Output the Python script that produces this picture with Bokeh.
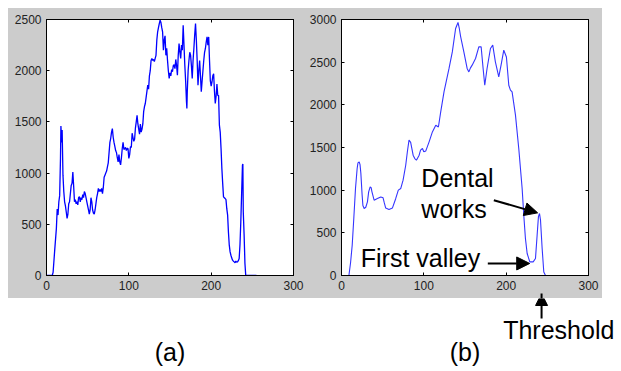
from bokeh.plotting import figure
from bokeh.layouts import row, column
from bokeh.models import Range1d, LinearAxis, FixedTicker, Arrow, NormalHead, Label, Spacer
from bokeh.embed import file_html
from bokeh.resources import INLINE

# ---------------- data ----------------
a_x = [0, 7, 8, 10, 12, 13, 14, 15, 16, 17, 17.5, 18.5, 19, 20, 21, 22, 23, 24, 25, 26, 27, 28, 29, 30,
       31, 32, 33, 34, 35, 36, 37, 38, 39, 40, 41, 42, 43, 44, 45, 46, 47, 48, 49, 50, 51, 52, 53, 54,
       55, 56, 57, 58, 59, 60, 61, 62, 63, 64, 65, 66, 67, 68, 69, 70, 71, 72, 73, 74, 75, 76, 77, 78,
       79, 80, 81, 82, 83, 84, 85, 86, 87, 88, 89, 90, 91, 92, 93, 94, 95, 96, 97, 98, 99, 100, 101,
       102, 103, 104, 105, 106, 107, 108, 109, 110, 111, 112, 113, 114, 115, 116, 117, 118, 119, 120,
       121, 122, 123, 124, 125, 126, 127, 128, 129, 130, 131, 132, 133, 134, 135, 136, 137, 138, 139,
       140, 141, 142, 143, 144, 145, 146, 147, 148, 149, 150, 151, 152, 153, 154, 155, 156, 157, 158,
       159, 160, 161, 162, 163, 164, 165, 166, 167, 168, 169, 170, 170.5, 171, 172, 173, 174, 175, 176,
       177, 178, 179, 180, 181, 182, 183, 184, 185, 186, 187, 188, 189, 190, 191, 192, 193, 194, 195,
       196, 197, 198, 199, 200, 201, 202, 203, 204, 205, 206, 207, 208, 209, 210, 211, 212, 213, 214,
       215, 216, 217, 218, 219, 220, 221, 222, 223, 224, 225, 226, 227, 228, 229, 230, 231, 232, 233,
       234, 235, 236, 237, 238, 238.5, 239, 240, 240.5, 241, 242, 255]
a_y = [0, 0, 30, 250, 460, 650, 590, 720, 780, 1150, 1460, 1300, 1420, 980, 820, 720, 680, 620, 557, 600,
       700, 720, 800, 880, 900, 1010, 870, 720, 740, 700, 720, 690, 760, 770, 720, 760, 740, 790, 760,
       820, 800, 760, 720, 680, 640, 600, 640, 760, 720, 640, 610, 600, 640, 700, 760, 800, 850, 820,
       840, 820, 850, 800, 860, 960, 980, 1000, 1020, 1060, 1100, 1200, 1300, 1340, 1400, 1435, 1350,
       1300, 1260, 1220, 1200, 1150, 1110, 1180, 1110, 1080, 1150, 1240, 1300, 1230, 1240, 1250, 1220,
       1240, 1240, 1143, 1180, 1260, 1250, 1390, 1350, 1310, 1330, 1440, 1500, 1565, 1480, 1430, 1380,
       1480, 1400, 1430, 1480, 1600, 1650, 1680, 1740, 1800, 1860, 1820, 1950, 2000, 2100, 2120, 2100,
       2110, 2090, 2120, 2150, 2300, 2380, 2420, 2460, 2493, 2470, 2420, 2380, 2200, 2300, 2340, 2150,
       2220, 2100, 2000, 1924, 1980, 1950, 2010, 1990, 2050, 2060, 2020, 2110, 2050, 1956, 2150, 2266,
       2180, 2120, 2250, 2200, 2444, 2250, 2054, 1900, 1700, 1631, 1800, 2000, 2100, 2180, 2152, 2050,
       1924, 2100, 2217, 2350, 2461, 2300, 2100, 1858, 2000, 2100, 1950, 1794, 1900, 2000, 2100, 2180,
       2217, 2280, 2331, 2250, 2330, 2100, 1900, 1850, 1890, 1950, 1970, 1800, 1680, 1750, 1870, 1760,
       1757, 1468, 1400, 1240, 1045, 900, 768, 760, 752, 740, 650, 589, 420, 296, 230, 198, 170, 150,
       140, 133, 125, 140, 130, 133, 145, 165, 300, 524, 800, 1077, 1090, 621, 400, 264, 120, 0, 0]

b_x = [0, 9, 11, 13, 15, 17, 19, 20, 21.5, 22.5, 23.5, 25, 26, 27.5, 29.5, 31.5, 33, 34.8, 36, 37,
       39.6, 43.6, 47.7, 50.5, 52, 53.7, 57.7, 61.8, 65.8, 69, 72, 74.8, 78, 80, 82, 84, 87, 89, 91,
       94.3, 96, 98.3, 100, 102.4, 106.4, 110.4, 114.5, 117.7, 120.5, 124.5, 130.6, 134.6, 138.6,
       141.5, 143, 144.7, 148.6, 152.6, 154.7, 156.5, 158.7, 162.8, 166.8, 169.6, 172, 174, 176.8,
       180.9, 183.7, 186.9, 191, 193.8, 197.1, 200.3, 203.2, 205.2, 207.2, 211.3, 215.3, 219.4,
       221.4, 223.4, 225.5, 228.7, 232.8, 235.6, 237.6, 239.2, 240.5, 241.7, 243.7, 245.7, 247.8, 252]
b_y = [0, 0, 150, 355, 680, 1020, 1254, 1320, 1331, 1300, 1200, 950, 820, 785, 800, 863, 980, 1038,
       1030, 980, 882, 901, 921, 910, 850, 790, 773, 790, 900, 1000, 1020, 1117, 1292, 1450, 1586,
       1560, 1410, 1370, 1351, 1410, 1470, 1488, 1450, 1460, 1566, 1683, 1761, 1740, 1917, 2152,
       2426, 2620, 2894, 2965, 2900, 2800, 2620, 2426, 2386, 2430, 2465, 2543, 2679, 2680, 2426,
       2230, 2426, 2660, 2699, 2504, 2328, 2465, 2640, 2560, 2230, 2172, 2152, 1879, 1488, 1020,
       707, 434, 258, 160, 160, 199, 472, 690, 727, 650, 316, 42, 0, 0]

x_ticks = [0, 100, 200, 300]
a_y_ticks = [0, 500, 1000, 1500, 2000, 2500]
b_y_ticks = [0, 500, 1000, 1500, 2000, 2500, 3000]
x_max = 300
a_y_max = 2500
b_y_max = 3000
threshold = 243
panel_names = ["(a)", "(b)"]

# annotation anchors (panel b data coordinates)
dental_text = ["Dental", "works"]
dental_text_pos = [(97, 1148), (97, 785)]
dental_arrow = (185, 882, 238.2, 734)
valley_text = "First valley"
valley_text_pos = (23.4, 208)
valley_arrow = (177.7, 141, 228.6, 141)

# ---------------- style / layout ----------------
GRAY = "#cccccc"
FONT = "Liberation Sans"
FIG_H = 290
B_TOP, B_BOT = 11, 23
FRAME_H = FIG_H - B_TOP - B_BOT
A_W, A_BL, A_BR = 297, 38, 12
B_W, B_BL, B_BR = 297, 36, 14
PAGE_X0, PAGE_Y0 = 8, 8


def make_panel(xs, ys, ymax, yticks, color, lw, width, bl, br):
    p = figure(width=width, height=FIG_H, x_range=Range1d(0, x_max), y_range=Range1d(0, ymax),
               output_backend="svg", toolbar_location=None, title=None,
               x_axis_location=None, y_axis_location=None,
               min_border_left=bl, min_border_right=br, min_border_top=B_TOP, min_border_bottom=B_BOT,
               border_fill_color=GRAY, background_fill_color="white",
               outline_line_color="black", outline_line_width=1)
    p.xgrid.visible = False
    p.ygrid.visible = False
    p.line(xs, ys, line_color=color, line_width=lw)
    for loc, tk, show in [("below", x_ticks, True), ("left", yticks, True),
                          ("above", x_ticks, False), ("right", yticks, False)]:
        ax = LinearAxis(ticker=FixedTicker(ticks=tk), major_tick_in=3, major_tick_out=0,
                        minor_tick_line_color=None, axis_line_color="black",
                        major_tick_line_color="black",
                        major_label_text_font=FONT,
                        major_label_text_font_size="12px" if show else "1px",
                        major_label_standoff=5 if show else 0,
                        major_label_text_color="#222222" if show else None)
        p.add_layout(ax, loc)
    return p


pa = make_panel(a_x, a_y, a_y_max, a_y_ticks, "#0000ff", 1.3, A_W, A_BL, A_BR)
pb = make_panel(b_x, b_y, b_y_max, b_y_ticks, "#3535ff", 1.1, B_W, B_BL, B_BR)

for t, (tx, ty) in zip(dental_text, dental_text_pos):
    pb.add_layout(Label(x=tx, y=ty, text=t, text_font=FONT, text_font_size="25px",
                        text_baseline="alphabetic", text_color="black"))
pb.add_layout(Label(x=valley_text_pos[0], y=valley_text_pos[1], text=valley_text, text_font=FONT,
                    text_font_size="25px", text_baseline="alphabetic", text_color="black"))
for (x0, y0, x1, y1) in [dental_arrow, valley_arrow]:
    pb.add_layout(Arrow(x_start=x0, y_start=y0, x_end=x1, y_end=y1, line_width=2, line_color="black",
                        end=NormalHead(size=13, fill_color="black", line_color="black")))

# conversions between panel b data and page pixels
b_px_per_x = (B_W - B_BL - B_BR) / x_max
b_px_per_y = FRAME_H / b_y_max
b_frame_left = PAGE_X0 + A_W + B_BL
b_frame_bottom = PAGE_Y0 + B_TOP + FRAME_H


def page_y_to_b(py):
    return (b_frame_bottom - py) / b_px_per_y


thr_page_x = b_frame_left + threshold * b_px_per_x
dash_top, dash_bot = 277, 289
arrow_tip, arrow_tail = 293, 318

# dashed threshold mark below the axis (inside the gray border of panel b)
pb.add_layout(Arrow(x_start=threshold, y_start=page_y_to_b(dash_top), x_end=threshold,
                    y_end=page_y_to_b(dash_bot), end=None, line_width=2.5, line_color="black"))
# upper part of threshold arrow (clipped at canvas edge)
pb.add_layout(Arrow(x_start=threshold, y_start=page_y_to_b(arrow_tail), x_end=threshold,
                    y_end=page_y_to_b(arrow_tip), line_width=2, line_color="black",
                    end=NormalHead(size=12, fill_color="black", line_color="black")))

# bottom strip: page pixel coordinates
BOT_W, BOT_H = 613, 73
bot_top = PAGE_Y0 + FIG_H
pbot = figure(width=BOT_W, height=BOT_H, x_range=Range1d(PAGE_X0, PAGE_X0 + BOT_W),
              y_range=Range1d(bot_top + BOT_H, bot_top), output_backend="svg", toolbar_location=None,
              title=None, x_axis_location=None, y_axis_location=None, min_border=0,
              outline_line_color=None, border_fill_color="white", background_fill_color="white")
pbot.xgrid.visible = False
pbot.ygrid.visible = False
pbot.add_layout(Arrow(x_start=thr_page_x, y_start=arrow_tail, x_end=thr_page_x, y_end=arrow_tip,
                      line_width=2, line_color="black",
                      end=NormalHead(size=12, fill_color="black", line_color="black")))
pbot.add_layout(Label(x=502.7, y=329, text="Threshold", text_font=FONT, text_font_size="25px",
                      text_baseline="alphabetic", text_color="black"))
a_center = PAGE_X0 + A_BL + (A_W - A_BL - A_BR) / 2
b_center = b_frame_left + (B_W - B_BL - B_BR) / 2
for name, cx in zip(panel_names, [a_center, b_center]):
    pbot.add_layout(Label(x=cx, y=351, text=name, text_font=FONT, text_font_size="25px",
                          text_align="center", text_baseline="alphabetic", text_color="black"))

panels = row(pa, pb, styles={"background-color": GRAY})
layout = column(Spacer(height=PAGE_Y0),
                row(Spacer(width=PAGE_X0), panels),
                row(Spacer(width=PAGE_X0), pbot))
open("out.html", "w").write(file_html(layout, INLINE))
